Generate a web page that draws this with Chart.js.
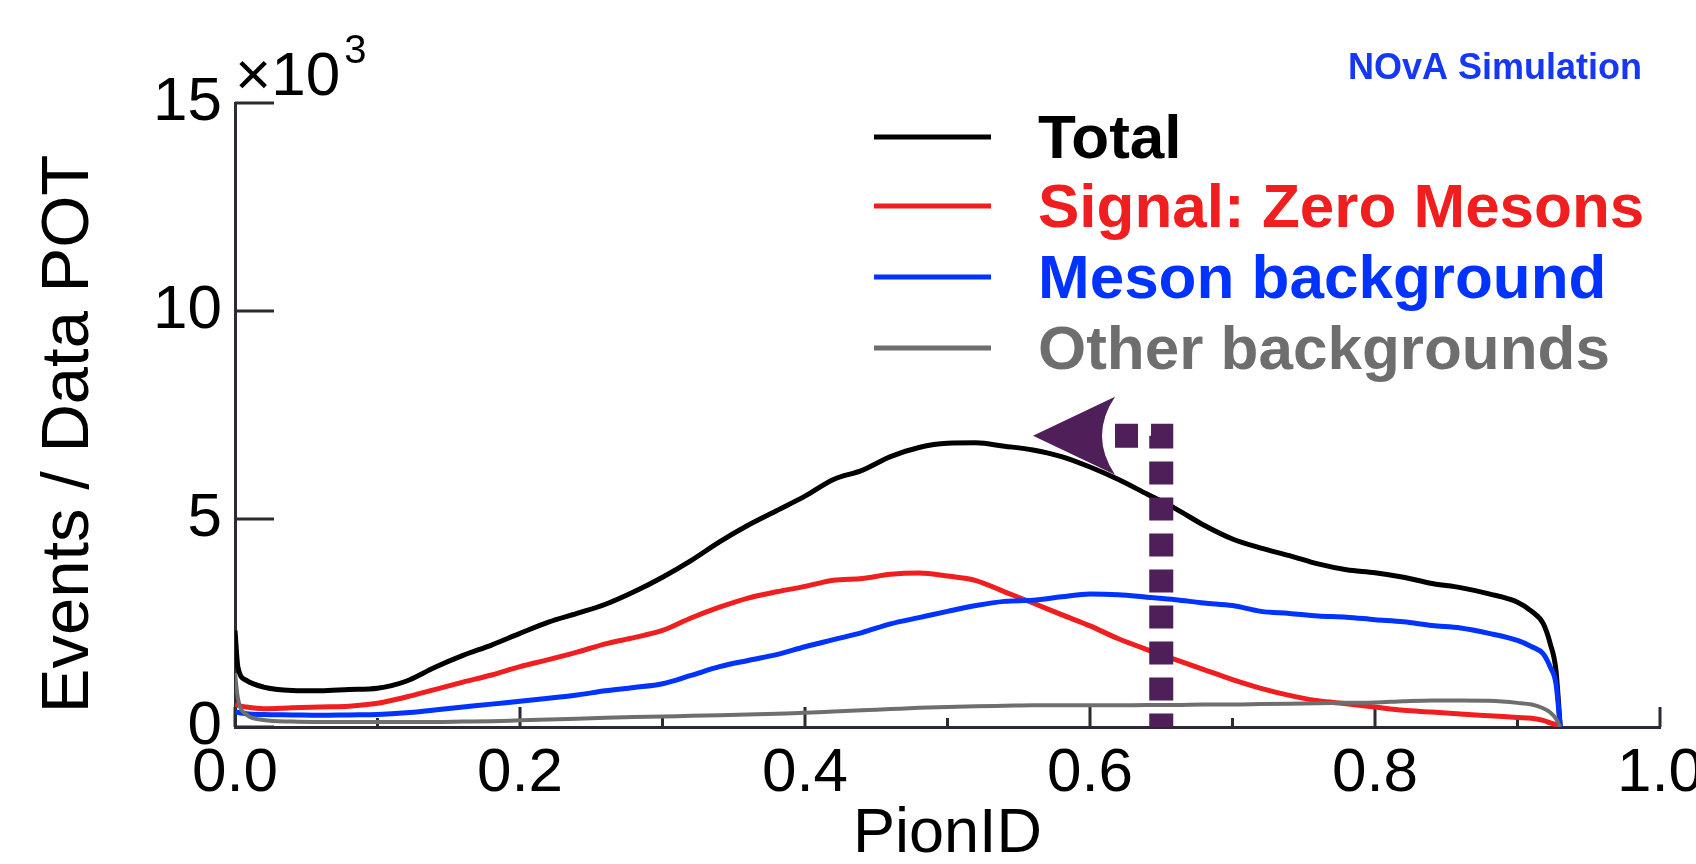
<!DOCTYPE html>
<html>
<head>
<meta charset="utf-8">
<script src="https://cdn.jsdelivr.net/npm/chart.js@4.4.1/dist/chart.umd.min.js"></script>
<style>
  html, body { margin: 0; padding: 0; background: #fff; }
</style>
</head>
<body>
<canvas id="pionChart" width="1696" height="864"></canvas>
<script>
// PionID bin positions and histogram contents (x10^3 events / data POT)
const pionId = [0, 0.002, 0.008,
  0.02, 0.04, 0.06, 0.08, 0.10, 0.12, 0.14, 0.16, 0.18, 0.20,
  0.22, 0.24, 0.26, 0.28, 0.30, 0.32, 0.34, 0.36, 0.38, 0.40,
  0.42, 0.44, 0.46, 0.48, 0.50, 0.52, 0.54, 0.56, 0.58, 0.60,
  0.62, 0.64, 0.66, 0.68, 0.70, 0.72, 0.74, 0.76, 0.78, 0.80,
  0.82, 0.84, 0.86, 0.88, 0.90,
  0.91, 0.918, 0.923, 0.927, 0.93];

const totalEvents = [2.32, 1.45, 1.12,
  0.96, 0.88, 0.87, 0.90, 0.93, 1.10, 1.43, 1.72, 1.97, 2.25,
  2.52, 2.73, 2.95, 3.25, 3.60, 4.00, 4.45, 4.85, 5.20, 5.55,
  5.95, 6.17, 6.50, 6.72, 6.82, 6.83, 6.75, 6.66, 6.50, 6.25,
  5.95, 5.60, 5.25, 4.85, 4.52, 4.30, 4.12, 3.92, 3.78, 3.71,
  3.60, 3.45, 3.35, 3.20, 3.00,
  2.78, 2.49, 2.00, 1.36, 0];

const signalZeroMesons = [0.55, 0.52, 0.48,
  0.44, 0.46, 0.48, 0.50, 0.57, 0.72, 0.90, 1.08, 1.25, 1.45,
  1.62, 1.80, 2.00, 2.15, 2.32, 2.62, 2.88, 3.10, 3.25, 3.38,
  3.53, 3.57, 3.67, 3.70, 3.63, 3.52, 3.25, 2.98, 2.70, 2.43,
  2.12, 1.86, 1.62, 1.38, 1.14, 0.93, 0.76, 0.63, 0.56, 0.48,
  0.40, 0.36, 0.31, 0.27, 0.23,
  0.21, 0.16, 0.10, 0.05, 0];

const mesonBackground = [0.38, 0.35, 0.32,
  0.30, 0.29, 0.28, 0.29, 0.30, 0.34, 0.41, 0.48, 0.55, 0.62,
  0.69, 0.77, 0.87, 0.95, 1.04, 1.24, 1.45, 1.60, 1.74, 1.93,
  2.10, 2.27, 2.48, 2.63, 2.78, 2.92, 3.02, 3.05, 3.13, 3.20,
  3.18, 3.12, 3.06, 2.98, 2.92, 2.78, 2.73, 2.67, 2.64, 2.58,
  2.53, 2.44, 2.38, 2.25, 2.08,
  1.93, 1.76, 1.44, 1.04, 0];

const otherBackgrounds = [1.30, 0.70, 0.30,
  0.17, 0.13, 0.12, 0.12, 0.12, 0.12, 0.12, 0.13, 0.14, 0.16,
  0.18, 0.20, 0.22, 0.24, 0.25, 0.27, 0.28, 0.30, 0.32, 0.34,
  0.37, 0.40, 0.43, 0.46, 0.48, 0.50, 0.51, 0.52, 0.52, 0.52,
  0.52, 0.53, 0.53, 0.54, 0.54, 0.55, 0.56, 0.57, 0.58, 0.59,
  0.62, 0.64, 0.64, 0.63, 0.58,
  0.54, 0.45, 0.35, 0.20, 0];

const seriesNames = ['Total', 'Signal: Zero Mesons', 'Meson background', 'Other backgrounds'];
const seriesColors = ['#000000', '#f01e1e', '#0033ff', '#6e6e6e'];
const seriesWidths = [5, 5, 5, 4];

const xMajorTicks = [0, 0.2, 0.4, 0.6, 0.8, 1.0];
const xMinorTicks = [0.1, 0.3, 0.5, 0.7, 0.9];
const yTicks = [0, 5, 10, 15];

// selection cut drawn as arrow
const cutValue = 0.65;
const arrowLevel = 7.0;
const arrowTipValue = 0.56;

const FONT = '"Liberation Sans", Arial, Helvetica, sans-serif';
const AXIS_COLOR = '#2b2b33';
const CUT_COLOR = '#4e1f58';

const seriesValues = [totalEvents, signalZeroMesons, mesonBackground, otherBackgrounds];
const datasets = seriesValues.map((vals, i) => ({
  label: seriesNames[i],
  data: pionId.map((x, j) => ({ x: x, y: vals[j] })),
  borderColor: seriesColors[i],
  borderWidth: seriesWidths[i],
  pointRadius: 0,
  fill: false,
  cubicInterpolationMode: 'monotone',
  order: seriesValues.length - i
}));

const decorations = {
  id: 'decorations',
  beforeDatasetsDraw(chart) {
    const { ctx, chartArea: a, scales: { x, y } } = chart;
    ctx.save();
    ctx.strokeStyle = AXIS_COLOR;
    ctx.lineWidth = 3;
    ctx.beginPath();
    xMajorTicks.forEach(v => {
      const px = x.getPixelForValue(v);
      ctx.moveTo(px, a.bottom);
      ctx.lineTo(px, a.bottom - 20);
    });
    xMinorTicks.forEach(v => {
      const px = x.getPixelForValue(v);
      ctx.moveTo(px, a.bottom);
      ctx.lineTo(px, a.bottom - 9);
    });
    yTicks.forEach(v => {
      const py = y.getPixelForValue(v);
      ctx.moveTo(a.left, py);
      ctx.lineTo(a.left + 39, py);
    });
    ctx.stroke();
    ctx.restore();
  },
  afterDatasetsDraw(chart) {
    const { ctx, scales: { x, y } } = chart;
    const cx = x.getPixelForValue(cutValue);
    const y0 = y.getPixelForValue(0);
    const ya = y.getPixelForValue(arrowLevel);
    const tip = x.getPixelForValue(arrowTipValue);
    const base = tip + 82;
    ctx.save();
    // dashed L-shaped cut line
    ctx.strokeStyle = CUT_COLOR;
    ctx.lineWidth = 24;
    ctx.lineJoin = 'miter';
    ctx.setLineDash([23, 13]);
    ctx.beginPath();
    ctx.moveTo(base, ya);
    ctx.lineTo(cx, ya);
    ctx.lineTo(cx, y0);
    ctx.stroke();
    // arrow head
    ctx.setLineDash([]);
    ctx.fillStyle = CUT_COLOR;
    ctx.beginPath();
    ctx.moveTo(tip, ya);
    ctx.lineTo(base, ya - 39);
    ctx.quadraticCurveTo(base - 26, ya, base, ya + 39);
    ctx.closePath();
    ctx.fill();
    ctx.restore();
  },
  afterDraw(chart) {
    const { ctx, chartArea: a } = chart;
    ctx.save();
    // y axis title
    ctx.fillStyle = '#000';
    ctx.font = '67px ' + FONT;
    ctx.textAlign = 'center';
    ctx.textBaseline = 'alphabetic';
    ctx.translate(88, (a.top + a.bottom) / 2 + 19);
    ctx.rotate(-Math.PI / 2);
    ctx.fillText('Events / Data POT', 0, 0);
    ctx.restore();

    ctx.save();
    // exponent label
    ctx.fillStyle = '#000';
    ctx.textAlign = 'left';
    ctx.textBaseline = 'alphabetic';
    ctx.font = '62px ' + FONT;
    const base = '\u00d710';
    ctx.fillText(base, a.left, a.top - 8);
    const w = ctx.measureText(base).width;
    ctx.font = '40px ' + FONT;
    ctx.fillText('3', a.left + w + 4, a.top - 40);

    // NOvA label
    ctx.font = 'bold 36px ' + FONT;
    ctx.fillStyle = '#1638f5';
    ctx.textAlign = 'right';
    ctx.fillText('NOvA Simulation', 1642, 79);

    // legend
    const rowY = [137, 206, 277, 348];
    ctx.textAlign = 'left';
    ctx.font = 'bold 62px ' + FONT;
    seriesNames.forEach((name, i) => {
      ctx.strokeStyle = seriesColors[i];
      ctx.lineWidth = 5;
      ctx.beginPath();
      ctx.moveTo(874, rowY[i]);
      ctx.lineTo(991, rowY[i]);
      ctx.stroke();
      ctx.fillStyle = seriesColors[i];
      ctx.fillText(name, 1038, rowY[i] + 21);
    });
    ctx.restore();
  }
};

new Chart(document.getElementById('pionChart'), {
  type: 'line',
  data: { datasets: datasets },
  plugins: [decorations],
  options: {
    responsive: false,
    animation: false,
    events: [],
    layout: { padding: { top: 103, right: 36, left: 0, bottom: 0 } },
    plugins: {
      legend: { display: false },
      tooltip: { enabled: false }
    },
    scales: {
      x: {
        type: 'linear',
        min: 0,
        max: 1,
        afterBuildTicks: s => { s.ticks = xMajorTicks.map(v => ({ value: v })); },
        afterFit: s => { s.height = 137; s.paddingLeft = 0; s.paddingRight = 0; },
        grid: { display: false },
        border: { display: true, color: AXIS_COLOR, width: 3 },
        ticks: {
          font: { family: FONT, size: 62 },
          color: '#000',
          padding: 2,
          maxRotation: 0,
          autoSkip: false,
          callback: v => Number(v).toFixed(1)
        },
        title: {
          display: true,
          text: 'PionID',
          color: '#000',
          font: { family: FONT, size: 63, lineHeight: 0.9 },
          padding: { top: 0, bottom: 1 }
        }
      },
      y: {
        type: 'linear',
        min: 0,
        max: 15,
        afterBuildTicks: s => { s.ticks = yTicks.map(v => ({ value: v })); },
        afterFit: s => { s.width = 235; },
        grid: { display: false },
        border: { display: true, color: AXIS_COLOR, width: 3 },
        ticks: {
          font: { family: FONT, size: 62 },
          color: '#000',
          padding: 5,
          callback: v => String(v)
        }
      }
    }
  }
});
</script>
</body>
</html>
